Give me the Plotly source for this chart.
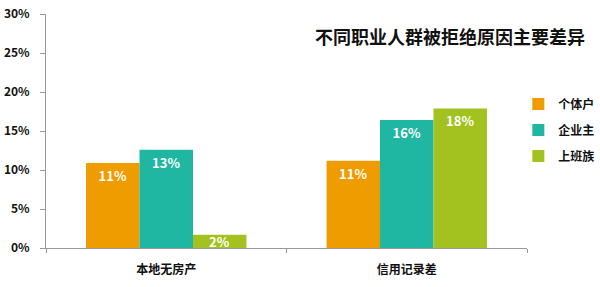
import plotly.graph_objects as go

categories = ["本地无房产", "信用记录差"]
series_names = ["个体户", "企业主", "上班族"]
geti = [10.9, 11.2]
qiye = [12.6, 16.4]
shangban = [1.7, 17.9]
colors = ["#EF9C00", "#1FB6A2", "#A3C11F"]
title_text = "不同职业人群被拒绝原因主要差异"

FONT = "Noto Sans CJK SC, Microsoft YaHei, sans-serif"
W, H = 600, 287
ML, MR, MT, MB = 46, 73, 14, 39
BARGAP = 0.333
SMALL = 3.0  # bars shorter than this get a centred annotation label

plot_w = W - ML - MR
bar_px = plot_w / len(categories) * (1 - BARGAP) / len(series_names)

fig = go.Figure()
annotations = []
all_series = [geti, qiye, shangban]
for i, (name, vals, col) in enumerate(zip(series_names, all_series, colors)):
    positions = ["none" if v < SMALL else "inside" for v in vals]
    fig.add_trace(go.Bar(
        x=categories, y=vals, name=name, legendgroup=name,
        marker=dict(color=col, line=dict(width=0)),
        texttemplate="%{y:.0f}%", textposition=positions,
        insidetextanchor="end", constraintext="none",
        textfont=dict(color="white", size=13, family=FONT, weight="bold"),
        hoverinfo="skip",
    ))
    for cat, v in zip(categories, vals):
        if v < SMALL:
            annotations.append(dict(
                x=cat, y=v / 2, xref="x", yref="y", text=f"{v:.0f}%",
                showarrow=False, xshift=(i - (len(series_names) - 1) / 2) * bar_px,
                font=dict(color="white", size=13, family=FONT, weight="bold"),
            ))

annotations.append(dict(
    text=title_text, xref="paper", yref="paper",
    x=0.84, y=1.0, xanchor="center", yanchor="middle",
    yshift=-22, showarrow=False,
    font=dict(size=18, family=FONT, weight="bold", color="#111"),
))

fig.update_layout(
    width=W, height=H,
    margin=dict(l=ML, r=MR, t=MT, b=MB, autoexpand=False),
    paper_bgcolor="white", plot_bgcolor="white",
    barmode="group", bargap=BARGAP, bargroupgap=0,
    font=dict(family=FONT, size=12, color="#222"),
    legend=dict(
        x=0.982, y=0.677, xanchor="left", yanchor="top",
        font=dict(size=12, family=FONT, weight="bold", color="#111"),
        tracegroupgap=7, itemwidth=30, bgcolor="rgba(0,0,0,0)",
    ),
    annotations=annotations,
)
fig.update_xaxes(
    showline=True, linecolor="#999", linewidth=1,
    ticks="outside", tickson="boundaries", ticklen=4, tickcolor="#999",
    ticklabelstandoff=11,
    tickfont=dict(size=12, family=FONT, weight="bold", color="#111"),
    showgrid=False,
)
fig.update_yaxes(
    range=[0, 30], dtick=5, ticksuffix="%",
    showline=True, linecolor="#999", linewidth=1,
    ticks="outside", ticklen=5, tickcolor="#999",
    ticklabelstandoff=8,
    tickfont=dict(size=12, family=FONT, weight="bold", color="#111"),
    showgrid=False, zeroline=False,
)
fig.write_html("out.html")
